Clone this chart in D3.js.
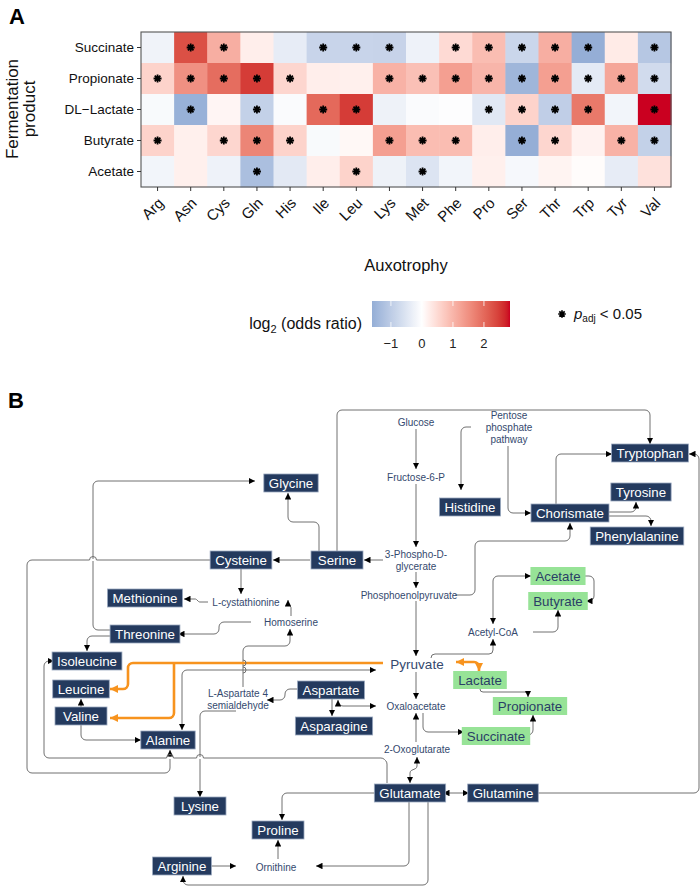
<!DOCTYPE html>
<html><head><meta charset="utf-8">
<script src="https://cdn.jsdelivr.net/npm/d3@7"></script>
<style>
body{margin:0;background:#fff}
text{font-family:"Liberation Sans",Arial,Helvetica,sans-serif}
</style></head>
<body><svg id="c" width="700" height="887"></svg>
<script>
// ---------------- DATA (panel A) ----------------
const products = ["Succinate","Propionate","DL\u2212Lactate","Butyrate","Acetate"];
const auxotrophies = ["Arg","Asn","Cys","Gln","His","Ile","Leu","Lys","Met","Phe","Pro","Ser","Thr","Trp","Tyr","Val"];
const succinateLog2OR  = [-0.23, 2.3, 1.1, 0.23,-0.36,-0.83,-0.83,-0.85,-0.25, 0.5, 0.9,-0.8, 1.1,-1.6, 0.27,-1.1];
const propionateLog2OR = [ 0.6, 1.5, 1.95, 2.5, 0.55, 0.23, 0.2, 1.05, 0.85, 1.3, 1.0,-1.45, 1.3,-0.4, 1.2,-0.7];
const lactateLog2OR    = [-0.1,-1.55, 0.13,-0.9,-0.07, 2.0, 2.5,-0.26,-0.07,-0.03,-0.45, 0.6,-0.95, 1.8,-0.19, 2.84];
const butyrateLog2OR   = [ 0.6, 0.2, 0.55, 1.65, 0.6,-0.1, 0.1, 1.3, 0.9, 0.9, 0.23,-1.6, 0.55, 0.17, 1.05,-0.9];
const acetateLog2OR    = [-0.19, 0.2,-0.25,-1.27,-0.43, 0.23, 0.6,-0.26,-0.53,-0.19, 0.2,-0.13, 0.15, 0.04,-0.36, 0.4];
const succinateSig  = [0,1,1,0,0,1,1,1,0,1,1,1,1,1,0,1];
const propionateSig = [1,1,1,1,1,0,0,1,1,1,1,1,1,1,1,1];
const lactateSig    = [0,1,0,1,0,1,1,0,0,0,1,1,1,1,0,1];
const butyrateSig   = [1,0,1,1,1,0,0,1,1,1,0,1,1,0,1,1];
const acetateSig    = [0,0,0,1,0,0,1,0,1,0,0,0,0,0,0,0];
const legendTicks = [-1,0,1,2];
const legendRange = [-1.61, 2.84];

// ---------------- DATA (panel B) ----------------
const darkNodes = ["Tryptophan","Glycine","Histidine","Tyrosine","Chorismate","Phenylalanine","Cysteine","Serine",
  "Methionine","Threonine","Isoleucine","Leucine","Valine","Alanine","Aspartate","Asparagine","Lysine",
  "Glutamate","Glutamine","Proline","Arginine"];
const productNodes = ["Acetate","Butyrate","Lactate","Propionate","Succinate"];
const intermediateNodes = ["Glucose","Fructose-6-P","3-Phospho-D-|glycerate","Phosphoenolpyruvate","Pyruvate",
  "Oxaloacetate","2-Oxoglutarate","Acetyl-CoA","L-cystathionine","Homoserine","L-Aspartate 4|semialdehyde",
  "Ornithine","Pentose|phosphate|pathway"];

// ---------------- LAYOUT ----------------
const svg = d3.select("#c");
const rowsData = [succinateLog2OR, propionateLog2OR, lactateLog2OR, butyrateLog2OR, acetateLog2OR];
const sigData = [succinateSig, propionateSig, lactateSig, butyrateSig, acetateSig];

const x = d3.scaleBand().domain(auxotrophies).range([141,671]);
const y = d3.scaleBand().domain(products).range([32,187]);
const color = d3.scaleLinear().domain([legendRange[0],0,legendRange[1]])
  .range(["#94aed6","#ffffff","#ca0020"]).interpolate(d3.interpolateLab).clamp(true);

function starPath(cx, cy, r){
  let s="";
  for(let k=0;k<4;k++){const a=k*Math.PI/4;const dx=r*Math.cos(a),dy=r*Math.sin(a);
    s+=`M${cx-dx},${cy-dy}L${cx+dx},${cy+dy}`;}
  return s;
}

svg.append("text").attr("x",9).attr("y",24).attr("font-size",22).attr("font-weight","bold").text("A");

const cells=[];
products.forEach((p,i)=>auxotrophies.forEach((a,j)=>cells.push({p,a,v:rowsData[i][j],s:sigData[i][j]})));
svg.append("g").selectAll("rect").data(cells).join("rect")
  .attr("x",d=>x(d.a)).attr("y",d=>y(d.p)).attr("width",x.bandwidth()+0.5).attr("height",y.bandwidth()+0.5)
  .attr("fill",d=>color(d.v));
svg.append("g").selectAll("path").data(cells.filter(d=>d.s)).join("path")
  .attr("d",d=>starPath(x(d.a)+x.bandwidth()/2, y(d.p)+y.bandwidth()/2, 4))
  .attr("stroke","#000").attr("stroke-width",1.8).attr("fill","none");
svg.append("rect").attr("x",141).attr("y",32).attr("width",530).attr("height",155)
  .attr("fill","none").attr("stroke","#555").attr("stroke-width",1.1);

const gy = svg.append("g").attr("transform","translate(141,0)").call(d3.axisLeft(y).tickSize(4).tickPadding(3));
gy.select(".domain").remove();
gy.selectAll("line").attr("stroke","#333");
gy.selectAll("text").attr("font-size",13.5).attr("fill","#111").attr("font-family","Liberation Sans, Arial");
const gx = svg.append("g").attr("transform","translate(0,187)").call(d3.axisBottom(x).tickSize(4));
gx.select(".domain").remove();
gx.selectAll("line").attr("stroke","#333");
gx.selectAll("text").attr("font-size",15).attr("fill","#111").attr("font-family","Liberation Sans, Arial")
  .attr("x",0).attr("y",0).attr("dy",0).attr("text-anchor","end")
  .attr("transform","translate(7,17) rotate(-45)");

const yt = svg.append("text").attr("transform","translate(18,109) rotate(-90)").attr("text-anchor","middle")
  .attr("font-size",17).attr("fill","#111");
yt.append("tspan").attr("x",0).attr("dy",0).text("Fermentation");
yt.append("tspan").attr("x",0).attr("dy",17).text("product");
svg.append("text").attr("x",406).attr("y",271).attr("text-anchor","middle").attr("font-size",16.5).attr("fill","#111").text("Auxotrophy");

// legend
const lt = svg.append("text").attr("x",362).attr("y",329).attr("text-anchor","end").attr("font-size",16).attr("fill","#111");
lt.append("tspan").text("log");
lt.append("tspan").attr("font-size",11).attr("dy",4).text("2");
lt.append("tspan").attr("dy",-4).text(" (odds ratio)");
const defs = svg.append("defs");
const grad = defs.append("linearGradient").attr("id","lg");
d3.range(0,1.0001,0.02).forEach(t=>grad.append("stop").attr("offset",t)
  .attr("stop-color",color(legendRange[0]+t*(legendRange[1]-legendRange[0]))));
const xl = d3.scaleLinear().domain(legendRange).range([372,510]);
svg.append("rect").attr("x",372).attr("y",301).attr("width",138).attr("height",26).attr("fill","url(#lg)");
legendTicks.forEach(t=>{
  svg.append("line").attr("x1",xl(t)).attr("x2",xl(t)).attr("y1",301).attr("y2",306).attr("stroke","#fff").attr("stroke-width",0.8);
  svg.append("line").attr("x1",xl(t)).attr("x2",xl(t)).attr("y1",322).attr("y2",327).attr("stroke","#fff").attr("stroke-width",0.8);
  svg.append("text").attr("x",xl(t)).attr("y",348).attr("text-anchor","middle").attr("font-size",13).attr("fill","#222")
    .text(t<0?"\u2212"+Math.abs(t):t);
});
svg.append("path").attr("d",starPath(562,314,3.8)).attr("stroke","#000").attr("stroke-width",1.7);
const pt = svg.append("text").attr("x",574).attr("y",319).attr("font-size",15).attr("fill","#111");
pt.append("tspan").attr("font-style","italic").text("p");
pt.append("tspan").attr("font-size",10).attr("dy",3).text("adj");
pt.append("tspan").attr("dy",-3).text(" < 0.05");

// ---------------- PANEL B ----------------
svg.append("text").attr("x",8).attr("y",408).attr("font-size",22).attr("font-weight","bold").text("B");

const nodePos = {
  "Tryptophan":[650,453],"Glycine":[291,483],"Histidine":[470,507],"Tyrosine":[641,492],"Chorismate":[570,513],
  "Phenylalanine":[637,536],"Cysteine":[241,560],"Serine":[337,560],"Methionine":[145,598],"Threonine":[145,634],
  "Isoleucine":[87,661],"Leucine":[81,689],"Valine":[81,716],"Alanine":[168,740],"Aspartate":[331,690],
  "Asparagine":[334,726],"Lysine":[200,806],"Glutamate":[410,793],"Glutamine":[503,793],"Proline":[278,830],
  "Arginine":[182,866],
  "Acetate":[558,576],"Butyrate":[558,601],"Lactate":[480,680],"Propionate":[530,706],"Succinate":[496,736],
  "Glucose":[416,422],"Fructose-6-P":[416,477],"3-Phospho-D-|glycerate":[416,560],"Phosphoenolpyruvate":[409,595],
  "Pyruvate":[417,664],"Oxaloacetate":[416,706],"2-Oxoglutarate":[417,749],"Acetyl-CoA":[493,632],
  "L-cystathionine":[246,602],"Homoserine":[291,622],"L-Aspartate 4|semialdehyde":[238,699],"Ornithine":[276,867],
  "Pentose|phosphate|pathway":[509,427]
};

const mk = (id,fill)=>defs.append("marker").attr("id",id).attr("viewBox","0 0 10 10").attr("refX",10).attr("refY",5)
  .attr("markerWidth",id==="ao"?8:6.5).attr("markerHeight",id==="ao"?8:6.5).attr("markerUnits","userSpaceOnUse")
  .attr("orient","auto-start-reverse").append("path").attr("d","M0,0L10,5L0,10z").attr("fill",fill);
mk("ak","#000"); mk("ao","#f7931e");

const edges = [
  {p:[[416,429],[416,469]],e:1},
  {p:[[416,484],[416,547]],e:1},
  {p:[[416,572],[416,588]],e:1},
  {p:[[416,601],[416,656]],e:1},
  {p:[[416,672],[416,699]],e:1},
  {p:[[416,742],[416,713]],e:1},
  {p:[[417,757],[417,768],[410,771],[410,783]],s:1,e:1,r:3},
  {p:[[383,560],[364,560]],e:1},
  {p:[[310,560],[273,560]],e:1},
  {p:[[319,551],[319,522],[288,522],[288,493]],e:1},
  {p:[[337,551],[337,410],[650,410],[650,444]],e:1},
  {p:[[241,569],[241,594]],e:1},
  {p:[[208,602],[199,602],[196,599],[184,599]],e:1,r:2},
  {p:[[291,616],[291,607],[288,604],[288,600]],e:1,r:2},
  {p:[[251,622],[219,622],[219,634],[178,634]],e:1},
  {p:[[299,689],[285,689],[285,700],[267,700]],e:1},
  {p:[[243,687],[243,646],[290,646],[290,629]],e:1,hv:[663,670]},
  {p:[[236,711],[200,711],[200,797]],e:1},
  {p:[[182,730],[182,670],[376,670]],s:1,e:1},
  {p:[[383,663],[128,663],[128,689],[110,689]],e:1,o:1},
  {p:[[174,663],[174,718],[110,718]],e:1,o:1},
  {p:[[456,662],[479,662],[479,671]],s:1,e:1,o:1},
  {p:[[480,688],[480,692],[528,692],[528,697]],e:1,r:3},
  {p:[[527,735],[533,735],[533,715]],e:1},
  {p:[[423,713],[423,732],[464,732]],e:1},
  {p:[[431,658],[431,654],[493,654],[493,639]],e:1,r:4},
  {p:[[533,632],[558,632],[558,610]],e:1},
  {p:[[531,576],[493,576],[493,624]],s:1,e:1},
  {p:[[585,576],[594,576],[594,601],[586,601]],e:1},
  {p:[[455,595],[475,595],[475,541],[570,541],[570,523]],e:1},
  {p:[[508,446],[508,513],[531,513]],e:1},
  {p:[[471,427],[461,427],[461,490]],e:1},
  {p:[[556,504],[556,454],[612,454]],e:1},
  {p:[[609,512],[636,512],[636,502]],e:1},
  {p:[[609,516],[651,516],[651,526]],e:1},
  {p:[[537,793],[699,793],[699,454],[689,454]],e:1},
  {p:[[443,793],[469,793]],s:1,e:1},
  {p:[[409,802],[409,866],[316,866]],e:1},
  {p:[[428,802],[428,885],[183,885],[183,876]],e:1},
  {p:[[377,793],[282,793],[282,820]],e:1},
  {p:[[211,560],[27,560],[27,773],[170,773],[170,750]],e:1,hh:[[93,560]]},
  {p:[[114,630],[93,630],[93,481],[255,481]],e:1},
  {p:[[114,636],[87,636],[87,651]],e:1},
  {p:[[81,707],[81,699]],e:1},
  {p:[[81,725],[81,740],[141,740]],e:1},
  {p:[[332,699],[332,716]],e:1},
  {p:[[376,706],[338,706],[338,700]],s:1,e:1},
  {p:[[278,859],[278,840]],e:1},
  {p:[[209,866],[236,866]],e:1},
  {p:[[387,783],[387,762],[383,758],[44,758],[44,661],[54,661]],e:1,hh:[[170,758],[200,758]]}
];
function rounded(pts,r){
  const p=d3.path(); p.moveTo(pts[0][0],pts[0][1]);
  for(let i=1;i<pts.length-1;i++) p.arcTo(pts[i][0],pts[i][1],pts[i+1][0],pts[i+1][1],r);
  p.lineTo(pts[pts.length-1][0],pts[pts.length-1][1]); return p.toString();
}
const eg = svg.append("g");
const hopG = [];
edges.filter(d=>!d.o).concat(edges.filter(d=>d.o)).forEach(d=>{
  eg.append("path").attr("d",rounded(d.p,d.r||5)).attr("fill","none")
    .attr("stroke",d.o?"#f7931e":"#707070").attr("stroke-width",d.o?2.6:1)
    .attr("marker-end",d.e?`url(#${d.o?"ao":"ak"})`:null)
    .attr("marker-start",d.s?`url(#${d.o?"ao":"ak"})`:null);
});
// line hops (bridges) where connectors cross
edges.forEach(d=>{
  (d.hh||[]).forEach(([hx,hy])=>{
    eg.append("line").attr("x1",hx-3.5).attr("x2",hx+3.5).attr("y1",hy).attr("y2",hy).attr("stroke","#fff").attr("stroke-width",2);
    eg.append("path").attr("d",`M${hx-3.5},${hy}A3.5,3.5 0 0 1 ${hx+3.5},${hy}`).attr("fill","none").attr("stroke","#707070");
  });
});
edges.filter(d=>d.hv).forEach(d=>{
  const hx=d.p[0][0];
  d.hv.forEach(hy=>{
    eg.append("path").attr("d",`M${hx},${hy+3}A3,3 0 0 0 ${hx},${hy-3}`).attr("fill","none").attr("stroke","#707070");
  });
});

// boxes
const ng = svg.append("g");
function box(name, fill, txt, stroke){
  const [cx,cy]=nodePos[name];
  const g=ng.append("g");
  const r=g.append("rect").attr("fill",fill).attr("stroke",stroke).attr("stroke-width",0.8);
  const t=g.append("text").attr("x",cx).attr("y",cy+4.6).attr("text-anchor","middle").attr("font-size",13.3)
    .attr("fill",txt).text(name);
  const w=Math.max(52,t.node().getComputedTextLength()+10);
  r.attr("x",cx-w/2).attr("y",cy-9).attr("width",w).attr("height",18);
}
darkNodes.forEach(n=>box(n,"#243a5e","#ffffff","#9aa8bf"));
productNodes.forEach(n=>box(n,"#97e397","#2a3f66","none"));
intermediateNodes.forEach(n=>{
  const [cx,cy]=nodePos[n]; const lines=n.split("|");
  const big = n==="Pyruvate";
  const fs = big?13.5:10; const lh = 12;
  const t=ng.append("text").attr("text-anchor","middle").attr("font-size",fs).attr("fill","#34496e");
  lines.forEach((l,i)=>t.append("tspan").attr("x",cx).attr("y",cy+(i-(lines.length-1)/2)*lh+fs*0.35).text(l));
});
</script></body></html>
